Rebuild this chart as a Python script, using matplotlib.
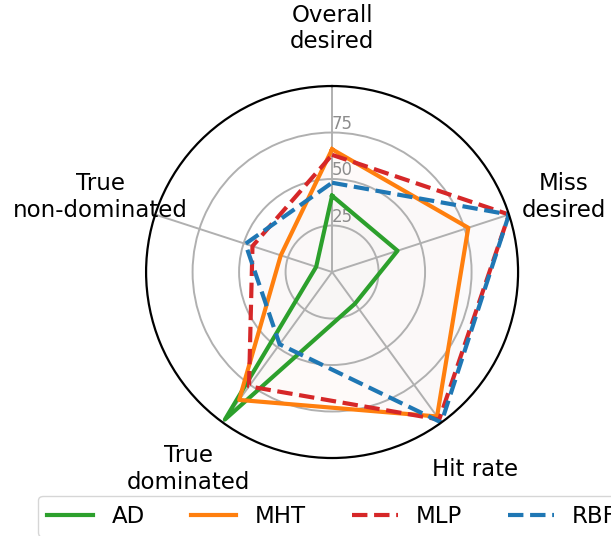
import numpy as np
import matplotlib
matplotlib.use("Agg")
import matplotlib.pyplot as plt

categories = ['Overall\ndesired', 'Miss\ndesired', 'Hit rate', 'True\ndominated', 'True\nnon-dominated']
series_names = ['AD', 'MHT', 'MLP', 'RBF']
ad = [41, 37, 21, 98, 9]
mht = [66, 77, 96, 85, 29]
mlp = [63, 100, 98, 76, 45]
rbf = [48, 100, 100, 48, 49]
r_ticks = [25, 50, 75]

colors = ['#2ca02c', '#ff7f0e', '#d62728', '#1f77b4']
styles = ['-', '-', '--', '--']

fig = plt.figure(figsize=(6.11, 5.36), dpi=100)
ax = fig.add_axes([0.239, 0.1455, 0.609, 0.694], projection='polar')
ax.set_theta_offset(np.pi / 2)
ax.set_theta_direction(-1)

n = len(categories)
angles = np.linspace(0, 2 * np.pi, n, endpoint=False)
closed = np.concatenate([angles, angles[:1]])

for name, vals, c, ls in zip(series_names, [ad, mht, mlp, rbf], colors, styles):
    v = np.concatenate([vals, vals[:1]])
    ax.plot(closed, v, color=c, linestyle=ls, linewidth=3, label=name)
    ax.fill(closed, v, color=c, alpha=0.012)

ax.set_ylim(0, 100)
ax.set_yticks(r_ticks)
ax.set_yticklabels([str(t) for t in r_ticks], color='#8c8c8c', fontsize=12)
ax.set_rlabel_position(0)
ax.set_xticks(angles)
ax.set_xticklabels(categories, fontsize=16.5)
ax.tick_params(axis='x', pad=31)
ax.grid(color='#b0b0b0', linewidth=1.4)
ax.spines['polar'].set_linewidth(1.6)

ax.legend(loc='upper center', bbox_to_anchor=(0.5, -0.07), ncol=4, fontsize=16.5,
          frameon=True)

fig.savefig('out.png', dpi=100)
